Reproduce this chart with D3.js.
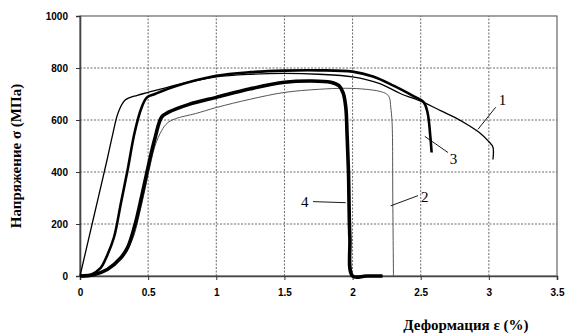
<!DOCTYPE html>
<html>
<head>
<meta charset="utf-8">
<script src="https://cdn.jsdelivr.net/npm/d3@7"></script>
<style>
  body { margin: 0; background: #fff; }
  svg { display: block; }
</style>
</head>
<body>
<div id="chart"></div>
<script>
// data: strain (%) / stress (MPa)
var strain1 = [0, 0.10, 0.20, 0.24, 0.28, 0.33, 0.42, 0.5, 0.75, 1.0, 1.25, 1.5, 1.75, 2.0, 2.2, 2.35, 2.52, 2.65, 2.75, 2.85, 2.93, 3.0, 3.03, 3.03];
var stress1 = [0, 225, 450, 545, 628, 676, 695, 706, 740, 766, 776, 779, 776, 766, 740, 702, 668, 635, 610, 580, 552, 517, 495, 448];

var strain2 = [0, 0.1, 0.2, 0.3, 0.38, 0.45, 0.5, 0.55, 0.6, 0.64, 0.7, 0.85, 1.0, 1.25, 1.5, 1.75, 1.95, 2.1, 2.2, 2.25, 2.27, 2.28, 2.29, 2.295, 2.3];
var stress2 = [0, 5, 25, 70, 135, 270, 390, 500, 560, 588, 605, 625, 648, 680, 706, 718, 722, 718, 710, 700, 687, 650, 590, 300, 0];

var strain3 = [0, 0.08, 0.15, 0.2, 0.25, 0.30, 0.35, 0.40, 0.45, 0.49, 0.55, 0.7, 1.0, 1.25, 1.5, 1.75, 2.0, 2.15, 2.3, 2.45, 2.52, 2.55, 2.57, 2.58];
var stress3 = [0, 5, 30, 80, 150, 280, 410, 550, 645, 686, 700, 730, 770, 784, 790, 791, 786, 767, 732, 691, 670, 629, 540, 475];

var strain4 = [0, 0.1, 0.2, 0.3, 0.35, 0.4, 0.45, 0.5, 0.55, 0.6, 0.65, 0.8, 1.0, 1.25, 1.5, 1.7, 1.84, 1.9, 1.93, 1.95, 1.96, 1.97, 1.98, 2.0, 2.1, 2.22];
var stress4 = [0, 5, 25, 70, 110, 190, 300, 420, 530, 612, 630, 660, 687, 720, 745, 750, 745, 732, 705, 650, 540, 400, 150, 0, 0, 0];

var xTicks = [0, 0.5, 1, 1.5, 2, 2.5, 3, 3.5];
var yTicks = [0, 200, 400, 600, 800, 1000];

// curve labels: text, label position, leader start, leader end (data units)
var labelNames = ["1", "2", "3", "4"];
var labelAt = [[3.10, 676], [2.53, 305], [2.74, 452], [1.65, 286]];
var leaderFrom = [[2.92, 564], [2.28, 270], [2.53, 537], [1.71, 286]];
var leaderTo = [[3.05, 649], [2.48, 309], [2.70, 475], [1.95, 282]];

var width = 567, height = 335;
var margin = {top: 16, right: 10, bottom: 59, left: 80};

var svg = d3.select("#chart").append("svg")
    .attr("width", width)
    .attr("height", height);

var x = d3.scaleLinear().domain([0, 3.5]).range([margin.left, width - margin.right]);
var y = d3.scaleLinear().domain([0, 1000]).range([height - margin.bottom, margin.top]);

// grid
svg.append("g").selectAll("line").data(xTicks.slice(1, -1)).enter()
    .append("line")
    .attr("x1", function(d){ return x(d); }).attr("x2", function(d){ return x(d); })
    .attr("y1", y(0)).attr("y2", y(1000))
    .attr("stroke", "#444").attr("stroke-width", 0.8).attr("stroke-dasharray", "2,1.5");
svg.append("g").selectAll("line").data(yTicks.slice(1, -1)).enter()
    .append("line")
    .attr("x1", x(0)).attr("x2", x(3.5))
    .attr("y1", function(d){ return y(d); }).attr("y2", function(d){ return y(d); })
    .attr("stroke", "#444").attr("stroke-width", 0.8).attr("stroke-dasharray", "2,1.5");

// frame (top / right)
svg.append("rect")
    .attr("x", x(0)).attr("y", y(1000))
    .attr("width", x(3.5) - x(0)).attr("height", y(0) - y(1000))
    .attr("fill", "none").attr("stroke", "#666").attr("stroke-width", 1.2);

// axes
var xAxis = svg.append("g")
    .attr("transform", "translate(0," + y(0) + ")")
    .call(d3.axisBottom(x).tickValues(xTicks).tickSize(4).tickPadding(9).tickFormat(d3.format("")));
var yAxis = svg.append("g")
    .attr("transform", "translate(" + x(0) + ",0)")
    .call(d3.axisLeft(y).tickValues(yTicks).tickSize(4).tickPadding(8).tickFormat(d3.format("d")));

[xAxis, yAxis].forEach(function(ax){
    ax.select(".domain").attr("stroke", "#444").attr("stroke-width", 1.6);
    ax.selectAll(".tick line").attr("stroke", "#333");
    ax.selectAll(".tick text")
        .attr("fill", "#000")
        .style("font-family", "Arial, 'Liberation Sans', sans-serif")
        .style("font-weight", "bold")
        .style("font-size", "10px");
});

// curves
function pts(xs, ys){ return xs.map(function(v, i){ return [v, ys[i]]; }); }
var line = d3.line()
    .x(function(d){ return x(d[0]); })
    .y(function(d){ return y(d[1]); })
    .curve(d3.curveCatmullRom.alpha(0.5));

var series = [
    {p: pts(strain2, stress2), w: 1, c: "#555"},
    {p: pts(strain1, stress1), w: 1.3, c: "#000"},
    {p: pts(strain3, stress3), w: 2.6, c: "#000"},
    {p: pts(strain4, stress4), w: 3.6, c: "#000"}
];
svg.append("g").selectAll("path").data(series).enter()
    .append("path")
    .attr("d", function(d){ return line(d.p); })
    .attr("fill", "none")
    .attr("stroke", function(d){ return d.c; })
    .attr("stroke-width", function(d){ return d.w; })
    .attr("stroke-linejoin", "round");

// labels with leader lines
var lab = svg.append("g");
labelNames.forEach(function(t, i){
    lab.append("line")
        .attr("x1", x(leaderFrom[i][0])).attr("y1", y(leaderFrom[i][1]))
        .attr("x2", x(leaderTo[i][0])).attr("y2", y(leaderTo[i][1]))
        .attr("stroke", "#000").attr("stroke-width", 0.9);
    lab.append("text")
        .attr("x", x(labelAt[i][0])).attr("y", y(labelAt[i][1]))
        .attr("text-anchor", "middle").attr("dy", "0.35em")
        .style("font-family", "'Liberation Serif', 'Times New Roman', serif")
        .style("font-size", "15px")
        .text(t);
});

// axis titles
svg.append("text")
    .attr("x", 466).attr("y", 330)
    .attr("text-anchor", "middle")
    .style("font-family", "'Liberation Serif', 'Times New Roman', serif")
    .style("font-weight", "bold").style("font-size", "15px")
    .text("Деформация ε (%)");
svg.append("text")
    .attr("transform", "translate(21,156) rotate(-90)")
    .attr("text-anchor", "middle")
    .style("font-family", "'Liberation Serif', 'Times New Roman', serif")
    .style("font-weight", "bold").style("font-size", "15px")
    .text("Напряжение σ (МПа)");
</script>
</body>
</html>
